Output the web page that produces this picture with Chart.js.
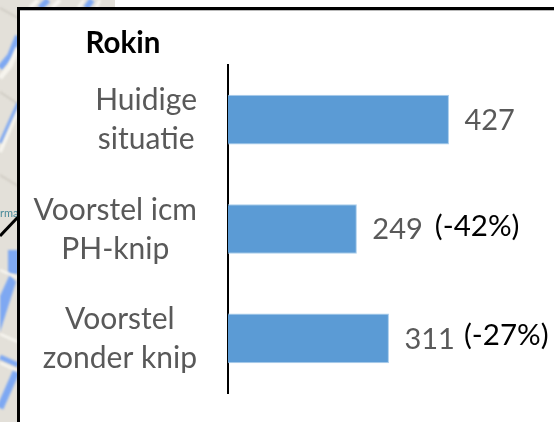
<!DOCTYPE html>
<html>
<head>
<meta charset="utf-8">
<style>
    html, body { margin: 0; padding: 0; background: #fff; }
    #wrap { width: 554px; height: 422px; position: relative; }
</style>
<script src="https://cdn.jsdelivr.net/npm/chart.js@4/dist/chart.umd.min.js"></script>
</head>
<body>
<div id="wrap"><canvas id="chart" width="554" height="422"></canvas></div>
<script>
    var categories = ['Huidige situatie', 'Voorstel icm PH-knip', 'Voorstel zonder knip'];
    var categoryLines = [['Huidige', 'situatie'], ['Voorstel icm', 'PH-knip'], ['Voorstel', 'zonder knip']];
    var values = [427, 249, 311];
    var changes = ['', '(-42%)', '(-27%)'];
    var changeOffsets = [0, 78, 75];
    var title = 'Rokin';
    var fontName = 'Lato, "Open Sans", sans-serif';

    // Stukje kaart dat achter het kader zichtbaar is
    var mapBackground = {
        id: 'mapBackground',
        beforeDraw: function (chart) {
            var ctx = chart.ctx;
            function stroke(color, width, pts) {
                ctx.strokeStyle = color;
                ctx.lineWidth = width;
                ctx.beginPath();
                ctx.moveTo(pts[0], pts[1]);
                for (var i = 2; i < pts.length; i += 2) {
                    ctx.lineTo(pts[i], pts[i + 1]);
                }
                ctx.stroke();
            }
            ctx.save();
            ctx.beginPath();
            ctx.rect(0, 0, 115, 8);
            ctx.rect(0, 8, 18, 414);
            ctx.clip();
            ctx.fillStyle = '#e3e0d9';
            ctx.fillRect(0, 0, 115, 422);
            ctx.filter = 'blur(0.8px)';
            stroke('#cfcbc3', 2, [0, 8, 18, 18]);
            stroke('#cfcbc3', 2, [0, 92, 18, 104]);
            stroke('#cfcbc3', 2, [0, 175, 18, 186]);
            stroke('#f6f4ee', 4, [30, 8, 38, 0]);
            stroke('#7ea8f2', 6, [40, 8, 48, 0]);
            stroke('#f6f4ee', 4, [52, 8, 60, 0]);
            stroke('#f6f4ee', 3, [78, 8, 84, 0]);
            stroke('#7ea8f2', 6, [86, 8, 92, 0]);
            stroke('#f6f4ee', 3, [96, 8, 100, 0]);
            stroke('#7ea8f2', 6, [0, 68, 10, 56, 18, 36]);
            stroke('#f6f4ee', 5, [0, 78, 10, 66, 18, 48]);
            stroke('#f6f4ee', 4, [0, 152, 18, 110]);
            stroke('#7ea8f2', 3, [0, 143, 18, 103]);
            ctx.fillStyle = '#7ea8f2';
            ctx.fillRect(8, 250, 10, 24);
            ctx.beginPath();
            ctx.moveTo(0, 296); ctx.lineTo(10, 274); ctx.lineTo(16, 282); ctx.lineTo(0, 332);
            ctx.fill();
            stroke('#f6f4ee', 3, [0, 270, 18, 278]);
            stroke('#f6f4ee', 3, [0, 334, 18, 342]);
            stroke('#7ea8f2', 5, [0, 357, 18, 365]);
            stroke('#f6f4ee', 3, [0, 363, 18, 371]);
            stroke('#7ea8f2', 7, [0, 408, 16, 372]);
            ctx.filter = 'none';
            stroke('#000', 3, [0, 236, 18, 217]);
            ctx.fillStyle = '#4a8a9a';
            ctx.font = '11px ' + fontName;
            ctx.textBaseline = 'middle';
            ctx.textAlign = 'left';
            ctx.fillText('rma', 0, 213);
            ctx.restore();

            // Kader
            ctx.fillStyle = '#000';
            ctx.fillRect(17, 7, 537, 3);
            ctx.fillRect(17, 7, 3, 415);
            ctx.fillStyle = '#b9b9b9';
            ctx.fillRect(20, 10, 534, 1);
        }
    };

    // Teksten: titel, categorieën (per blok gecentreerd) en waardelabels
    var chartTexts = {
        id: 'chartTexts',
        afterDraw: function (chart) {
            var ctx = chart.ctx;
            var xScale = chart.scales.x;
            var yScale = chart.scales.y;
            ctx.save();
            ctx.textBaseline = 'middle';

            ctx.fillStyle = '#000';
            ctx.textAlign = 'center';
            ctx.font = 'bold 29.5px ' + fontName;
            ctx.fillText(title, 123, 43);

            ctx.font = '30px ' + fontName;
            categoryLines.forEach(function (lines, i) {
                var y = yScale.getPixelForValue(i);
                var blockWidth = Math.max.apply(null, lines.map(function (l) {
                    return ctx.measureText(l).width;
                }));
                ctx.fillStyle = '#595959';
                ctx.fillText(lines[0], 197 - blockWidth / 2, y - 19);
                ctx.fillText(lines[1], 197 - blockWidth / 2, y + 20);
            });

            ctx.textAlign = 'left';
            values.forEach(function (v, i) {
                var x = xScale.getPixelForValue(v);
                var y = yScale.getPixelForValue(i);
                ctx.font = '29px ' + fontName;
                ctx.fillStyle = '#595959';
                ctx.fillText(String(v), x + 15.5, y + 1);
                if (changes[i]) {
                    ctx.font = '29.5px ' + fontName;
                    ctx.fillStyle = '#000';
                    ctx.fillText(changes[i], x + changeOffsets[i], y - 3);
                }
            });
            ctx.restore();
        }
    };

    new Chart(document.getElementById('chart'), {
        type: 'bar',
        data: {
            labels: categories,
            datasets: [{
                data: values,
                backgroundColor: '#5b9bd5',
                borderColor: '#a9cdec',
                borderWidth: 1,
                categoryPercentage: 1,
                barPercentage: 0.455
            }]
        },
        options: {
            indexAxis: 'y',
            responsive: false,
            animation: false,
            layout: { padding: { left: 220, top: 65, bottom: 29, right: 0 } },
            plugins: { legend: { display: false }, tooltip: { enabled: false } },
            scales: {
                x: { display: false, min: 0, max: 630 },
                y: {
                    grid: { display: false },
                    border: { color: '#000', width: 2 },
                    ticks: { display: false }
                }
            }
        },
        plugins: [mapBackground, chartTexts]
    });
</script>
</body>
</html>
